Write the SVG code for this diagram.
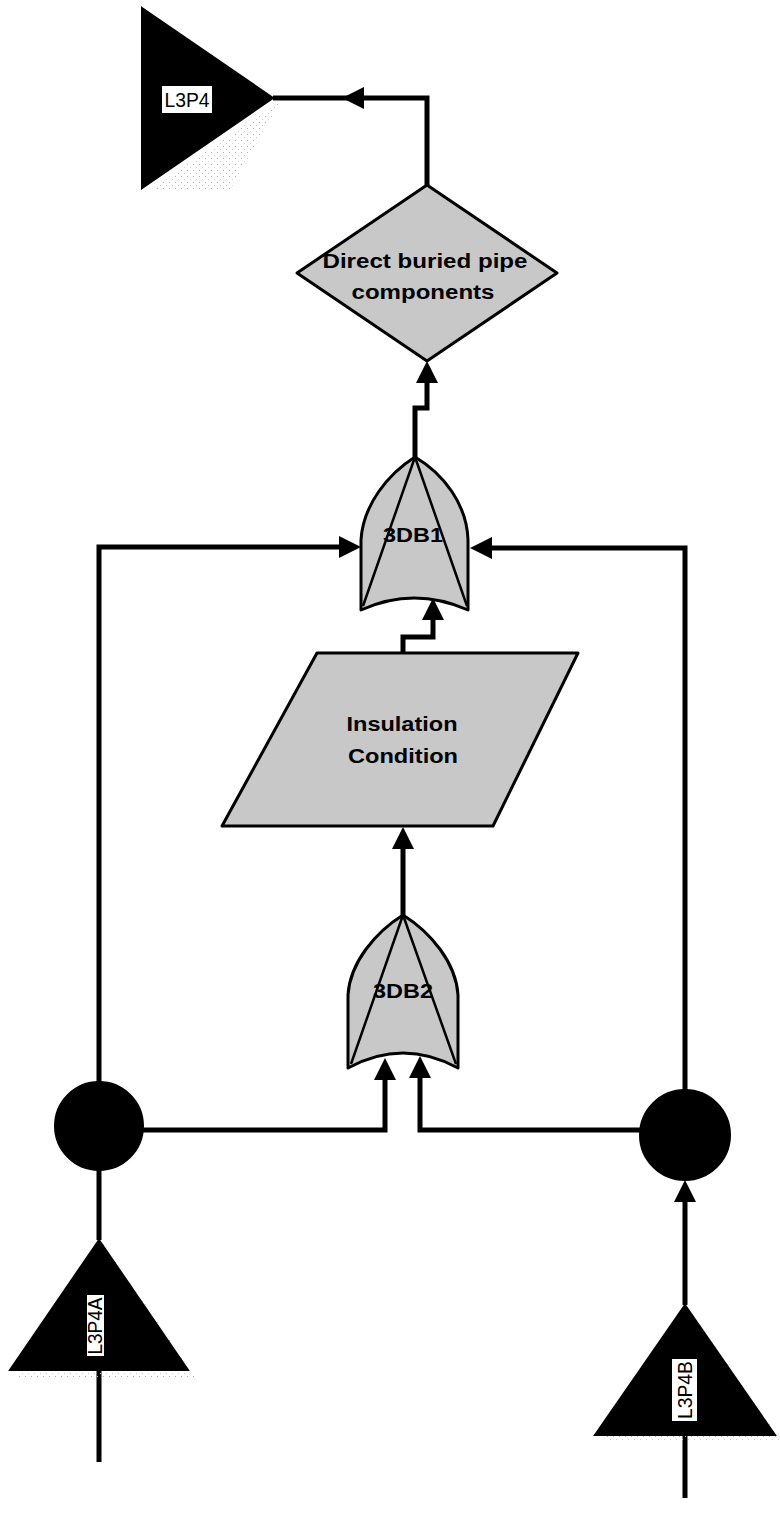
<svg xmlns="http://www.w3.org/2000/svg" width="780" height="1520" viewBox="0 0 780 1520">
<defs>
<marker id="arr" viewBox="0 0 22 22" markerWidth="22" markerHeight="22" refX="8" refY="11" orient="auto" markerUnits="userSpaceOnUse">
<path d="M0,0 L22,11 L0,22 z" fill="#000"/>
</marker>
<pattern id="speck" width="6" height="6" patternUnits="userSpaceOnUse">
<rect x="1" y="2" width="1" height="1" fill="#b0b0b0"/>
<rect x="4" y="5" width="1" height="1" fill="#d0d0d0"/>
</pattern>
</defs>
<style>
.conn{fill:none;stroke:#000;stroke-width:5;stroke-linejoin:miter}
.gray{fill:#c8c8c8;stroke:#000;stroke-width:3;stroke-linejoin:round}
.inner{fill:none;stroke:#000;stroke-width:2.5}
.blk{fill:#000;stroke:#000;stroke-width:2}
.lbl{font-family:"Liberation Sans",Arial,sans-serif;font-weight:bold;font-size:20px;fill:#000;text-anchor:middle}
.tag{font-family:"Liberation Sans",Arial,sans-serif;font-size:21px;fill:#000;text-anchor:middle}
.tagbox{fill:#fff;stroke:none}
.shadow{fill:url(#speck);stroke:none}
</style>
<rect width="780" height="1520" fill="#fff"/>

<g id="connectors">
<path class="conn" d="M427,185 L427,98 L356,98" marker-end="url(#arr)"/>
<path class="conn" d="M356,98 L273,98"/>
<path class="conn" d="M415,457 L415,408 L427,408 L427,375" marker-end="url(#arr)"/>
<path class="conn" d="M99,1082 L99,547 L347,547" marker-end="url(#arr)"/>
<path class="conn" d="M685,1090 L685,548 L484,548" marker-end="url(#arr)"/>
<path class="conn" d="M403,653 L403,637 L433,637 L433,612" marker-end="url(#arr)"/>
<path class="conn" d="M403,915 L403,841" marker-end="url(#arr)"/>
<path class="conn" d="M143,1130 L385,1130 L385,1072" marker-end="url(#arr)"/>
<path class="conn" d="M640,1130 L420,1130 L420,1070" marker-end="url(#arr)"/>
<path class="conn" d="M685,1305 L685,1194" marker-end="url(#arr)"/>
<path class="conn" d="M99,1170 L99,1240"/>
<path class="conn" d="M99,1370 L99,1462"/>
<path class="conn" d="M685,1435 L685,1498"/>
</g>

<g id="L3P4">
<polygon class="shadow" points="150,190 281,100 230,190"/>
<polygon class="blk" points="142,8 273,98 142,188"/>
<rect class="tagbox" x="162" y="86" width="50" height="27"/>
<text class="tag" x="187" y="107" textLength="45" lengthAdjust="spacingAndGlyphs">L3P4</text>
</g>

<g id="direct-buried">
<polygon class="gray" points="427,185 557,273 427,361 297,273"/>
<text class="lbl" x="425" y="268" textLength="205" lengthAdjust="spacingAndGlyphs">Direct buried pipe</text>
<text class="lbl" x="423" y="299" textLength="143" lengthAdjust="spacingAndGlyphs">components</text>
</g>

<g id="gate-3DB1">
<path class="gray" d="M415,457 C388,474 363,505 361,540 L361,610 Q414,586 468,610 L468,540 C467,505 444,474 415,457 Z"/>
<path class="inner" d="M415,457 L363,606 M415,457 L467,606"/>
<text class="lbl" x="413" y="542" textLength="60" lengthAdjust="spacingAndGlyphs">3DB1</text>
</g>

<g id="insulation">
<polygon class="gray" points="317,653 578,653 493,826 222,826"/>
<text class="lbl" x="402" y="731" textLength="111" lengthAdjust="spacingAndGlyphs">Insulation</text>
<text class="lbl" x="403" y="763" textLength="110" lengthAdjust="spacingAndGlyphs">Condition</text>
</g>

<g id="gate-3DB2">
<path class="gray" d="M403,915 C376,932 350,962 348,995 L348,1068 Q403,1038 458,1068 L458,995 C456,962 430,932 403,915 Z"/>
<path class="inner" d="M403,915 L351,1064 M403,915 L456,1064"/>
<text class="lbl" x="403" y="998" textLength="60" lengthAdjust="spacingAndGlyphs">3DB2</text>
</g>

<g id="junction-left">
<circle class="blk" cx="99" cy="1126" r="44"/>
</g>

<g id="junction-right">
<circle class="blk" cx="685" cy="1135" r="45"/>
</g>

<g id="L3P4A">
<polygon class="shadow" points="104,1244 196,1378 18,1378"/>
<polygon class="blk" points="99,1240 188,1370 10,1370"/>
<rect class="tagbox" x="87" y="1295" width="17" height="61"/>
<text class="tag" transform="translate(102,1326) rotate(-90)" x="0" y="0" textLength="57" lengthAdjust="spacingAndGlyphs">L3P4A</text>
</g>

<g id="L3P4B">
<polygon class="shadow" points="690,1310 782,1442 603,1442"/>
<polygon class="blk" points="685,1305 775,1435 595,1435"/>
<rect class="tagbox" x="672" y="1359" width="25" height="62"/>
<text class="tag" transform="translate(692,1390) rotate(-90)" x="0" y="0" textLength="58" lengthAdjust="spacingAndGlyphs">L3P4B</text>
</g>
</svg>
